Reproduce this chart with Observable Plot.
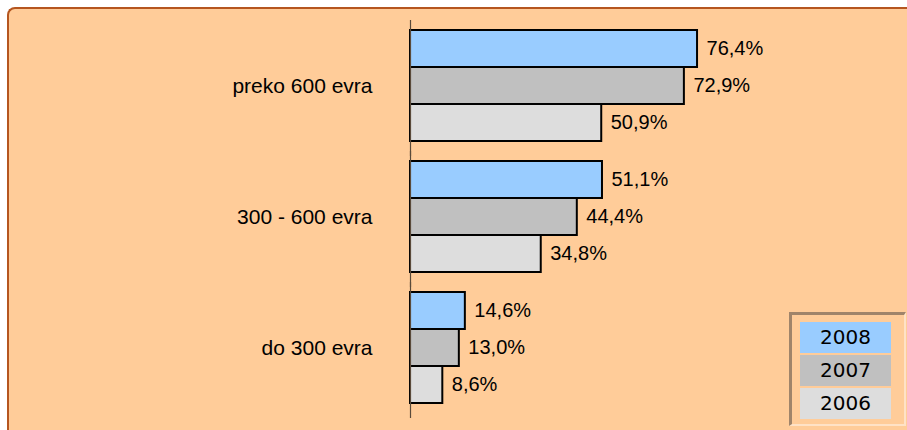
<!DOCTYPE html>
<html>
<head>
<meta charset="utf-8">
<script src="https://cdn.jsdelivr.net/npm/d3@7"></script>
<script src="https://cdn.jsdelivr.net/npm/@observablehq/plot@0.6"></script>
<style>
  html, body { margin: 0; padding: 0; background: #fff; }
  body { width: 907px; height: 430px; overflow: hidden; position: relative; }
  #panel { position: absolute; left: 7px; top: 7px; width: 930px; height: 450px;
    background: #FFCC99; border-top: 2px solid #B5561F; border-left: 2px solid #B5561F;
    border-top-left-radius: 8px; box-sizing: border-box; }
  #chart { position: absolute; left: 0; top: 0; }
  #legend { position: absolute; left: 789px; top: 312px; width: 117px; height: 114px;
    box-sizing: border-box; border-top: 3px solid #A0846A; border-left: 3px solid #A0846A;
    border-right: 2px solid #FFE2C6; border-bottom: 2px solid #FFE2C6; }
  .leg { position: absolute; left: 8px; width: 91px; height: 31px; line-height: 31px;
    text-align: center; font-family: "DejaVu Sans", sans-serif; font-size: 20px; color: #000; }
</style>
</head>
<body>
<div id="panel"></div>
<div id="chart"></div>
<div id="legend"></div>
<script>
const categories = ["preko 600 evra", "300 - 600 evra", "do 300 evra"];
const years = ["2008", "2007", "2006"];
const values2008 = [76.4, 51.1, 14.6];
const values2007 = [72.9, 44.4, 13.0];
const values2006 = [50.9, 34.8, 8.6];
const colors = ["#99CCFF", "#C0C0C0", "#DDDDDD"];

const seriesByYear = {"2008": values2008, "2007": values2007, "2006": values2006};
const rows = [];
categories.forEach((c, i) => {
  years.forEach(y => rows.push({cat: c, year: y, value: seriesByYear[y][i]}));
});

const fmt = v => v.toFixed(1).replace(".", ",") + "%";

const plot = Plot.plot({
  width: 907,
  height: 430,
  marginLeft: 410,
  marginRight: 121.3,
  marginTop: 29,
  marginBottom: 27,
  style: {background: "transparent", fontFamily: "'Liberation Sans', Arial, sans-serif", fontSize: "21px", color: "#000", overflow: "visible"},
  facet: {data: rows, y: "cat"},
  fy: {domain: categories, axis: "left", label: null, tickSize: 0, tickPadding: 38, paddingInner: 0.153, paddingOuter: 0},
  x: {domain: [0, 100], axis: null},
  y: {domain: years, axis: null, padding: 0},
  color: {domain: years, range: colors},
  marks: [
    Plot.barX(rows, {x: "value", y: "year", fill: "year", stroke: "#000", strokeWidth: 2}),
    Plot.text(rows, {x: "value", y: "year", text: d => fmt(d.value), textAnchor: "start", dx: 9, fontSize: 20, fill: "#000"}),
    Plot.ruleX([0], {stroke: "#5a4a3a", strokeWidth: 1.2, insetTop: -10, insetBottom: -15})
  ]
});
document.getElementById("chart").appendChild(plot);

const legend = document.getElementById("legend");
years.forEach((y, i) => {
  const d = document.createElement("div");
  d.className = "leg";
  d.style.top = (7 + i * 33) + "px";
  d.style.background = colors[i];
  d.textContent = y;
  legend.appendChild(d);
});
</script>
</body>
</html>
